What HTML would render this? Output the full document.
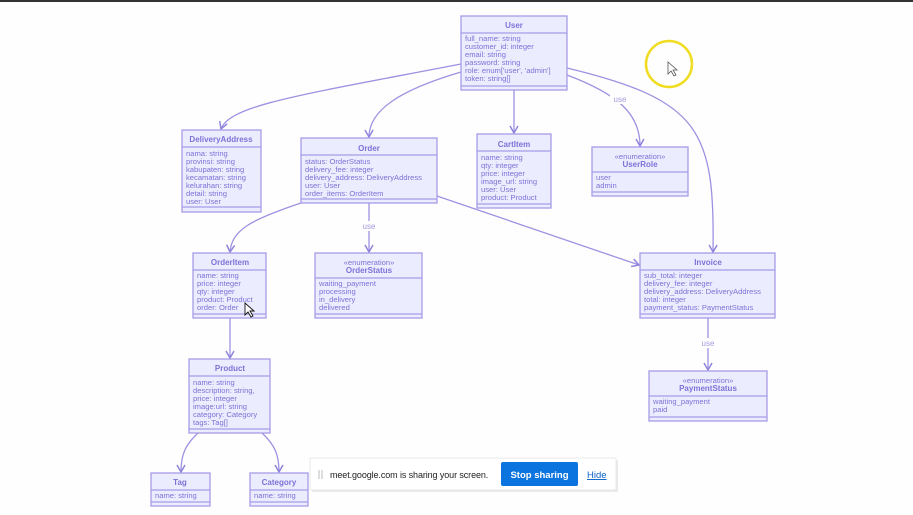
<!DOCTYPE html>
<html><head><meta charset="utf-8"><style>
html,body{margin:0;padding:0;background:#fefefe;width:913px;height:515px;overflow:hidden}
svg{display:block}
.b{fill:#ececff;stroke:#a79be6;stroke-width:1.3}
.l{stroke:#a79be6;stroke-width:1.2}
.t{font-family:"Liberation Sans",sans-serif;font-size:7.6px;fill:#7d72d6}
.h{font-family:"Liberation Sans",sans-serif;font-size:8px;font-weight:bold;fill:#7d72d6}
.e{stroke:#9d92e2;stroke-width:1.3;fill:none}
.u{font-family:"Liberation Sans",sans-serif;font-size:8px;fill:#a59ce0}
</style></head><body>
<svg width="913" height="515" viewBox="0 0 913 515">
<defs><marker id="a" markerWidth="10" markerHeight="10" refX="8" refY="5" orient="auto" markerUnits="userSpaceOnUse"><path d="M1,1 L8,5 L1,9" fill="none" stroke="#8f84dc" stroke-width="1.5"/></marker></defs>
<rect x="0" y="0" width="913" height="2" fill="#333"/>
<path class="e" marker-end="url(#a)" d="M461,64 C300,95 230,105 221,129"/>
<path class="e" marker-end="url(#a)" d="M461,72 C400,90 369,110 369,137"/>
<path class="e" marker-end="url(#a)" d="M514,90 L514,133"/>
<path class="e" marker-end="url(#a)" d="M567,75 C620,95 640,115 640,146"/>
<path class="e" marker-end="url(#a)" d="M567,68 C700,100 715,130 713,252"/>
<path class="e" marker-end="url(#a)" d="M301,203 C250,220 232,230 230,252"/>
<path class="e" marker-end="url(#a)" d="M369,203 L369,252"/>
<path class="e" marker-end="url(#a)" d="M437,196 L639,265"/>
<path class="e" marker-end="url(#a)" d="M230,318 L230,358"/>
<path class="e" marker-end="url(#a)" d="M708,318 L708,370"/>
<path class="e" marker-end="url(#a)" d="M198,433 C185,445 181,455 181,472"/>
<path class="e" marker-end="url(#a)" d="M262,433 C275,445 279,455 279,472"/>
<rect x="610" y="94" width="20" height="10" fill="#fefefe"/><text class="u" x="620" y="102" text-anchor="middle">use</text>
<rect x="359" y="221" width="20" height="10" fill="#fefefe"/><text class="u" x="369" y="229" text-anchor="middle">use</text>
<rect x="698" y="338" width="20" height="10" fill="#fefefe"/><text class="u" x="708" y="346" text-anchor="middle">use</text>
<rect class="b" x="461" y="16" width="106" height="74"/>
<line class="l" x1="461" y1="33" x2="567" y2="33"/><line class="l" x1="461" y1="86" x2="567" y2="86"/>
<text class="h" x="514" y="28" text-anchor="middle">User</text>
<text class="t" x="465" y="41">full_name: string</text><text class="t" x="465" y="49">customer_id: integer</text><text class="t" x="465" y="57">email: string</text><text class="t" x="465" y="65">password: string</text><text class="t" x="465" y="73">role: enum['user', 'admin']</text><text class="t" x="465" y="81">token: string[]</text>
<rect class="b" x="182" y="130" width="79" height="82"/>
<line class="l" x1="182" y1="147" x2="261" y2="147"/><line class="l" x1="182" y1="207" x2="261" y2="207"/>
<text class="h" x="221" y="142" text-anchor="middle">DeliveryAddress</text>
<text class="t" x="186" y="156">nama: string</text><text class="t" x="186" y="164">provinsi: string</text><text class="t" x="186" y="172">kabupaten: string</text><text class="t" x="186" y="180">kecamatan: string</text><text class="t" x="186" y="188">kelurahan: string</text><text class="t" x="186" y="196">detail: string</text><text class="t" x="186" y="204">user: User</text>
<rect class="b" x="301" y="138" width="136" height="65"/>
<line class="l" x1="301" y1="155" x2="437" y2="155"/><line class="l" x1="301" y1="199" x2="437" y2="199"/>
<text class="h" x="369" y="151" text-anchor="middle">Order</text>
<text class="t" x="305" y="164">status: OrderStatus</text><text class="t" x="305" y="172">delivery_fee: integer</text><text class="t" x="305" y="180">delivery_address: DeliveryAddress</text><text class="t" x="305" y="188">user: User</text><text class="t" x="305" y="196">order_items: OrderItem</text>
<rect class="b" x="477" y="134" width="74" height="74"/>
<line class="l" x1="477" y1="151" x2="551" y2="151"/><line class="l" x1="477" y1="204" x2="551" y2="204"/>
<text class="h" x="514" y="147" text-anchor="middle">CartItem</text>
<text class="t" x="481" y="160">name: string</text><text class="t" x="481" y="168">qty: integer</text><text class="t" x="481" y="176">price: integer</text><text class="t" x="481" y="184">image_url: string</text><text class="t" x="481" y="192">user: User</text><text class="t" x="481" y="200">product: Product</text>
<rect class="b" x="592" y="147" width="96" height="49"/>
<line class="l" x1="592" y1="172" x2="688" y2="172"/><line class="l" x1="592" y1="192" x2="688" y2="192"/>
<text class="t" x="640" y="159" text-anchor="middle">«enumeration»</text><text class="h" x="640" y="167" text-anchor="middle">UserRole</text>
<text class="t" x="596" y="180">user</text><text class="t" x="596" y="188">admin</text>
<rect class="b" x="193" y="253" width="73" height="65"/>
<line class="l" x1="193" y1="270" x2="266" y2="270"/><line class="l" x1="193" y1="314" x2="266" y2="314"/>
<text class="h" x="230" y="265" text-anchor="middle">OrderItem</text>
<text class="t" x="197" y="278">name: string</text><text class="t" x="197" y="286">price: integer</text><text class="t" x="197" y="294">qty: integer</text><text class="t" x="197" y="302">product: Product</text><text class="t" x="197" y="310">order: Order</text>
<rect class="b" x="315" y="253" width="107" height="65"/>
<line class="l" x1="315" y1="278" x2="422" y2="278"/><line class="l" x1="315" y1="314" x2="422" y2="314"/>
<text class="t" x="369" y="265" text-anchor="middle">«enumeration»</text><text class="h" x="369" y="273" text-anchor="middle">OrderStatus</text>
<text class="t" x="319" y="286">waiting_payment</text><text class="t" x="319" y="294">processing</text><text class="t" x="319" y="302">in_delivery</text><text class="t" x="319" y="310">delivered</text>
<rect class="b" x="640" y="253" width="135" height="65"/>
<line class="l" x1="640" y1="270" x2="775" y2="270"/><line class="l" x1="640" y1="314" x2="775" y2="314"/>
<text class="h" x="708" y="265" text-anchor="middle">Invoice</text>
<text class="t" x="644" y="278">sub_total: integer</text><text class="t" x="644" y="286">delivery_fee: integer</text><text class="t" x="644" y="294">delivery_address: DeliveryAddress</text><text class="t" x="644" y="302">total: integer</text><text class="t" x="644" y="310">payment_status: PaymentStatus</text>
<rect class="b" x="189" y="359" width="81" height="74"/>
<line class="l" x1="189" y1="376" x2="270" y2="376"/><line class="l" x1="189" y1="429" x2="270" y2="429"/>
<text class="h" x="230" y="371" text-anchor="middle">Product</text>
<text class="t" x="193" y="385">name: string</text><text class="t" x="193" y="393">description: string,</text><text class="t" x="193" y="401">price: integer</text><text class="t" x="193" y="409">image:url: string</text><text class="t" x="193" y="417">category: Category</text><text class="t" x="193" y="425">tags: Tag[]</text>
<rect class="b" x="649" y="371" width="118" height="50"/>
<line class="l" x1="649" y1="396" x2="767" y2="396"/><line class="l" x1="649" y1="417" x2="767" y2="417"/>
<text class="t" x="708" y="383" text-anchor="middle">«enumeration»</text><text class="h" x="708" y="391" text-anchor="middle">PaymentStatus</text>
<text class="t" x="653" y="404">waiting_payment</text><text class="t" x="653" y="412">paid</text>
<rect class="b" x="151" y="473" width="59" height="33"/>
<line class="l" x1="151" y1="490" x2="210" y2="490"/><line class="l" x1="151" y1="502" x2="210" y2="502"/>
<text class="h" x="180" y="485" text-anchor="middle">Tag</text><text class="t" x="155" y="498">name: string</text>
<rect class="b" x="250" y="473" width="58" height="33"/>
<line class="l" x1="250" y1="490" x2="308" y2="490"/><line class="l" x1="250" y1="502" x2="308" y2="502"/>
<text class="h" x="279" y="485" text-anchor="middle">Category</text><text class="t" x="254" y="498">name: string</text>
<circle cx="669" cy="64" r="23" fill="none" stroke="#f0dc20" stroke-width="2.5"/>
<path d="M668,62 L668,74 L671,71 L674,76 L676,75 L673,70 L677,70 Z" fill="#fff" stroke="#555" stroke-width="0.8"/>
<path d="M245,303 L245,315 L248,312 L251,317 L253,316 L250,311 L254,311 Z" fill="#fff" stroke="#111" stroke-width="0.9"/>
<rect x="312" y="460" width="306" height="32" fill="#000" opacity="0.08"/>
<rect x="310" y="458" width="306" height="32" fill="#fff" stroke="#e4e4e4" stroke-width="0.8"/>
<line x1="319" y1="470" x2="319" y2="479" stroke="#bbb"/><line x1="322" y1="470" x2="322" y2="479" stroke="#bbb"/>
<text x="330" y="478" font-family="Liberation Sans,sans-serif" font-size="9" letter-spacing="-0.1" fill="#222">meet.google.com is sharing your screen.</text>
<rect x="501" y="462" width="77" height="24" rx="2" fill="#0b74de"/>
<text x="539.5" y="478" text-anchor="middle" font-family="Liberation Sans,sans-serif" font-size="9.5" font-weight="bold" fill="#fff">Stop sharing</text>
<text x="587" y="478" font-family="Liberation Sans,sans-serif" font-size="9.5" fill="#0b62c8" text-decoration="underline">Hide</text>
</svg>
</body></html>
